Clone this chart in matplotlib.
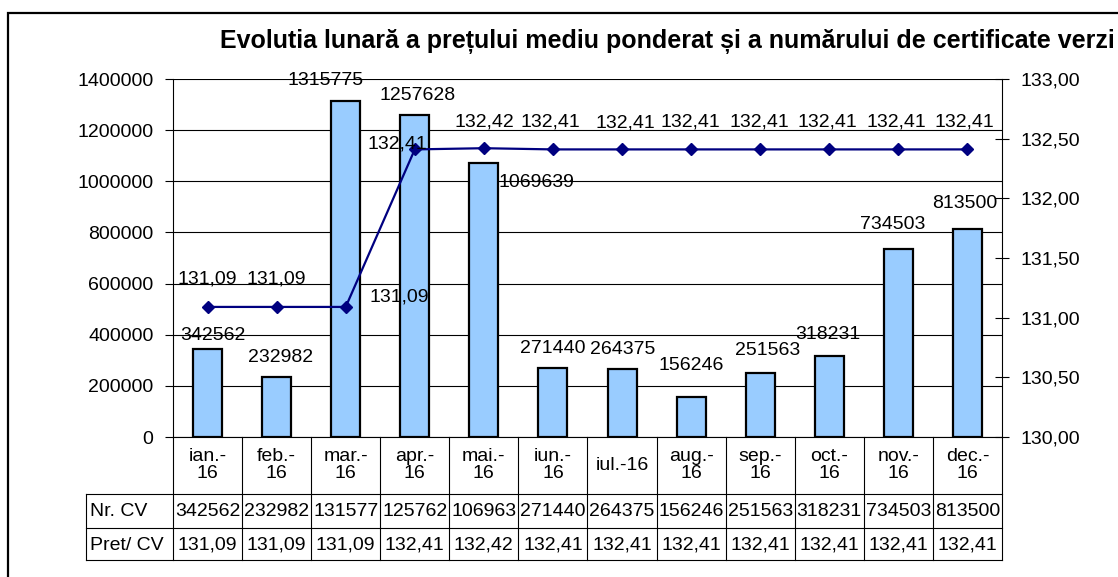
import matplotlib
matplotlib.use("Agg")
import matplotlib.pyplot as plt
from matplotlib.patches import Rectangle

plt.rcParams['font.family'] = ['Liberation Sans', 'DejaVu Sans']

# date
luni = ["ian.-\n16", "feb.-\n16", "mar.-\n16", "apr.-\n16", "mai.-\n16", "iun.-\n16",
        "iul.-16", "aug.-\n16", "sep.-\n16", "oct.-\n16", "nov.-\n16", "dec.-\n16"]
nr_cv = [342562, 232982, 1315775, 1257628, 1069639, 271440,
         264375, 156246, 251563, 318231, 734503, 813500]
pret_cv = [131.09, 131.09, 131.09, 132.41, 132.42, 132.41,
           132.41, 132.41, 132.41, 132.41, 132.41, 132.41]
titlu = "Evolutia lunară a prețului mediu ponderat și a numărului de certificate verzi"

# deplasari etichete (pixeli), mutate manual ca in Excel
off_bare = [(5, 14), (4, 20), (-20, 20), (3, 20), (53, -19), (0, 19),
            (1, 20), (0, 32), (7, 22), (-1, 21), (-6, 25), (-3, 25)]
off_linie = [(0, 28), (0, 28), (54, 10), (-17, 5), (1, 26), (-3, 27),
             (3, 26), (-1, 27), (-1, 27), (-2, 27), (-2, 27), (-3, 27)]

FS = 14

def fmt(v):
    return f"{v:.2f}".replace(".", ",")

W, H = 1118, 577
fig = plt.figure(figsize=(W / 100, H / 100), dpi=100)

# chenarul graficului
fig.patches.append(Rectangle((8 / W, -0.2), 1.2, 1.2 - 13 / H, transform=fig.transFigure,
                             fill=False, edgecolor="black", linewidth=1.6))

ax = fig.add_axes([173 / W, 1 - 437 / H, 829 / W, 358 / H])
x = list(range(len(nr_cv)))

ax.bar(x, nr_cv, width=0.42, color="#99CCFF", edgecolor="black", linewidth=1.6, zorder=2)
ax.set_xlim(-0.5, 11.5)
ax.set_ylim(0, 1400000)
ax.set_yticks(range(0, 1400001, 200000))
ax.set_yticklabels([str(v) for v in range(0, 1400001, 200000)], fontsize=FS)
ax.yaxis.grid(True, color="black", linewidth=0.8)
ax.set_axisbelow(True)
ax.set_xticks([])
for s in ["top", "right", "bottom"]:
    ax.spines[s].set_visible(False)
ax.spines["left"].set_linewidth(0.8)
ax.tick_params(axis="y", length=6, width=0.8, pad=8)

for i, v in enumerate(nr_cv):
    dx, dy = off_bare[i]
    ax.annotate(str(v), (i, v), xytext=(dx, dy), textcoords="offset pixels",
                ha="center", va="center", fontsize=FS, zorder=5)

ax2 = ax.twinx()
ax2.plot(x, pret_cv, color="#000080", linewidth=1.6, marker="D", markersize=6.5)
ax2.set_ylim(130, 133)
ax2.set_yticks([130, 130.5, 131, 131.5, 132, 132.5, 133])
ax2.set_yticklabels([fmt(v) for v in [130, 130.5, 131, 131.5, 132, 132.5, 133]], fontsize=FS)
ax2.tick_params(axis="y", direction="inout", length=10, width=0.8, pad=8)
for s in ["top", "left", "bottom"]:
    ax2.spines[s].set_visible(False)
ax2.spines["right"].set_linewidth(0.8)
for i, v in enumerate(pret_cv):
    dx, dy = off_linie[i]
    ax2.annotate(fmt(v), (i, v), xytext=(dx, dy), textcoords="offset pixels",
                 ha="center", va="center", fontsize=FS)

fig.text(667 / W, 1 - 42 / H, titlu, ha="center", va="center", fontsize=18, fontweight="bold")

# tabelul de date
tab = fig.add_axes([86 / W, 1 - 560 / H, 916 / W, 123 / H])
x0 = -0.5 - 87 / 69.1
tab.set_xlim(x0, 11.5)
tab.set_ylim(123, 0)
tab.axis("off")
lc = dict(color="black", linewidth=0.8, clip_on=False)
for yy in [57, 91, 123]:
    tab.plot([x0, 11.5], [yy, yy], **lc)
tab.plot([-0.5, 11.5], [0, 0], **lc)
for k in range(13):
    tab.plot([-0.5 + k, -0.5 + k], [0, 123], **lc)
tab.plot([x0, x0], [57, 123], **lc)

for i in x:
    tab.text(i, 28, luni[i], ha="center", va="center", fontsize=FS, linespacing=1.05)
    tab.text(i, 75, str(nr_cv[i])[:6], ha="center", va="center", fontsize=FS)
    tab.text(i, 108, fmt(pret_cv[i]), ha="center", va="center", fontsize=FS)
tab.text(x0 + 0.06, 75, "Nr. CV", ha="left", va="center", fontsize=FS)
tab.text(x0 + 0.06, 108, "Pret/ CV", ha="left", va="center", fontsize=FS)

fig.savefig("out.png", dpi=100)
